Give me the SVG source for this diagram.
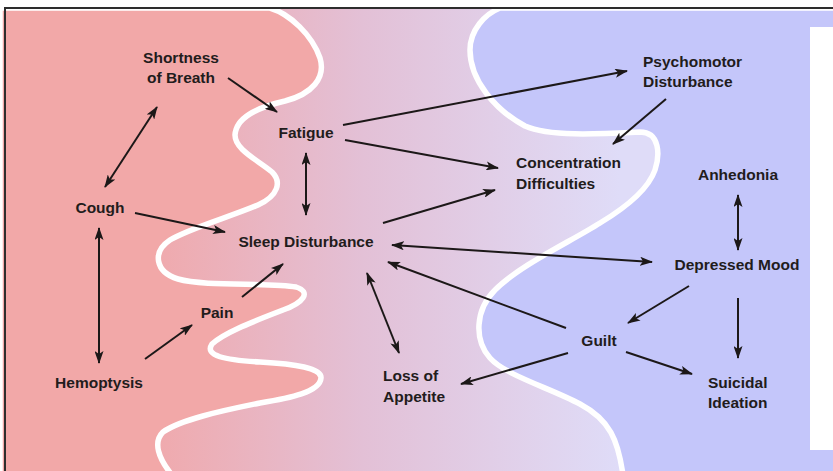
<svg xmlns="http://www.w3.org/2000/svg" width="833" height="471" viewBox="0 0 833 471">
<defs>
<linearGradient id="mid" gradientUnits="userSpaceOnUse" x1="150" y1="0" x2="620" y2="0">
<stop offset="0" stop-color="#f0a9ac"/>
<stop offset="0.45" stop-color="#e3c0d6"/>
<stop offset="1" stop-color="#dfdcf8"/>
</linearGradient>
<marker id="ah" viewBox="0 0 13 9" refX="12" refY="4.5" markerWidth="13" markerHeight="9" markerUnits="userSpaceOnUse" orient="auto-start-reverse">
<path d="M0,0 L13,4.5 L0,9 L3,4.5 Z" fill="#1c1818"/>
</marker>
</defs>
<style>
.lbl{font-family:"Liberation Sans",Arial,sans-serif;font-weight:bold;font-size:15.5px;fill:#221c1c}
.mid{text-anchor:middle}
.c{stroke:#1c1818;stroke-width:2;fill:none}
.wave{stroke:#ffffff;stroke-width:5.5}
</style>
<rect x="0" y="0" width="833" height="471" fill="#ffffff"/>
<g id="background">
<rect x="5" y="8" width="828" height="463" fill="url(#mid)"/>
<path class="wave" fill="#f2a8a8" d="M0 8 L270 8 C290 14 312 35 320 58 C326 78 312 94 285 101 C255 108 236 118 235 135 C235 150 258 160 272 172 C282 182 278 196 258 205 C230 217 190 228 170 240 C152 252 155 272 178 279 C205 287 270 282 296 287 C312 292 303 303 283 310 C255 321 225 332 212 344 C204 356 225 360 260 362 C295 364 322 368 321 378 C320 392 290 398 260 403 C220 411 180 420 163 432 C153 442 158 458 172 475 L0 475 Z"/>
<path class="wave" fill="#c4c6fa" d="M840 8 L500 8 C485 14 470 30 470 50 C470 80 495 110 525 126 C550 137 600 134 640 132 C660 132 660 155 655 170 C648 190 625 208 600 223 C570 242 520 265 495 290 C475 310 474 340 490 358 C505 375 550 388 580 404 C610 420 618 440 623 475 L840 475 Z"/>
<rect x="0" y="0" width="833" height="7" fill="#ffffff"/>
<rect x="810" y="27" width="23" height="423" fill="#ffffff"/>
<line x1="4" y1="8" x2="833" y2="8" stroke="#2d2d2d" stroke-width="2"/>
<line x1="5" y1="8" x2="5" y2="471" stroke="#2d2d2d" stroke-width="2"/>
</g>
<g id="connectors">
<line class="c" x1="105" y1="187" x2="157" y2="107" marker-start="url(#ah)" marker-end="url(#ah)"/>
<line class="c" x1="228" y1="78" x2="277" y2="112" marker-end="url(#ah)"/>
<line class="c" x1="306" y1="153" x2="306" y2="215" marker-start="url(#ah)" marker-end="url(#ah)"/>
<line class="c" x1="135" y1="213" x2="225" y2="232" marker-end="url(#ah)"/>
<line class="c" x1="99" y1="228" x2="99" y2="363" marker-start="url(#ah)" marker-end="url(#ah)"/>
<line class="c" x1="145" y1="359" x2="192" y2="325" marker-end="url(#ah)"/>
<line class="c" x1="242" y1="297" x2="283" y2="264" marker-end="url(#ah)"/>
<line class="c" x1="343" y1="125" x2="627" y2="71" marker-end="url(#ah)"/>
<line class="c" x1="345" y1="140" x2="498" y2="168" marker-end="url(#ah)"/>
<line class="c" x1="383" y1="223" x2="495" y2="190" marker-end="url(#ah)"/>
<line class="c" x1="666" y1="99" x2="613" y2="144" marker-end="url(#ah)"/>
<line class="c" x1="738" y1="195" x2="738" y2="250" marker-start="url(#ah)" marker-end="url(#ah)"/>
<line class="c" x1="392" y1="245" x2="652" y2="262" marker-start="url(#ah)" marker-end="url(#ah)"/>
<line class="c" x1="566" y1="328" x2="388" y2="262" marker-end="url(#ah)"/>
<line class="c" x1="367" y1="273" x2="399" y2="353" marker-start="url(#ah)" marker-end="url(#ah)"/>
<line class="c" x1="689" y1="286" x2="628" y2="323" marker-end="url(#ah)"/>
<line class="c" x1="738" y1="298" x2="738" y2="358" marker-end="url(#ah)"/>
<line class="c" x1="568" y1="353" x2="461" y2="384" marker-end="url(#ah)"/>
<line class="c" x1="626" y1="352" x2="692" y2="374" marker-end="url(#ah)"/>
</g>
<g id="shortness"><text class="lbl mid" x="181" y="63">Shortness</text><text class="lbl mid" x="181" y="83">of Breath</text></g>
<g id="fatigue"><text class="lbl mid" x="306" y="138">Fatigue</text></g>
<g id="cough"><text class="lbl mid" x="100" y="213">Cough</text></g>
<g id="sleep"><text class="lbl mid" x="306" y="247">Sleep Disturbance</text></g>
<g id="pain"><text class="lbl mid" x="217" y="318">Pain</text></g>
<g id="hemoptysis"><text class="lbl mid" x="99" y="388">Hemoptysis</text></g>
<g id="appetite"><text class="lbl" x="383" y="381">Loss of</text><text class="lbl" x="383" y="402">Appetite</text></g>
<g id="psychomotor"><text class="lbl" x="643" y="67">Psychomotor</text><text class="lbl" x="643" y="87">Disturbance</text></g>
<g id="concentration"><text class="lbl" x="516" y="168">Concentration</text><text class="lbl" x="516" y="189">Difficulties</text></g>
<g id="anhedonia"><text class="lbl mid" x="738" y="180">Anhedonia</text></g>
<g id="depressed"><text class="lbl mid" x="737" y="270">Depressed Mood</text></g>
<g id="guilt"><text class="lbl mid" x="599" y="346">Guilt</text></g>
<g id="suicidal"><text class="lbl" x="708" y="388">Suicidal</text><text class="lbl" x="708" y="408">Ideation</text></g>
</svg>
